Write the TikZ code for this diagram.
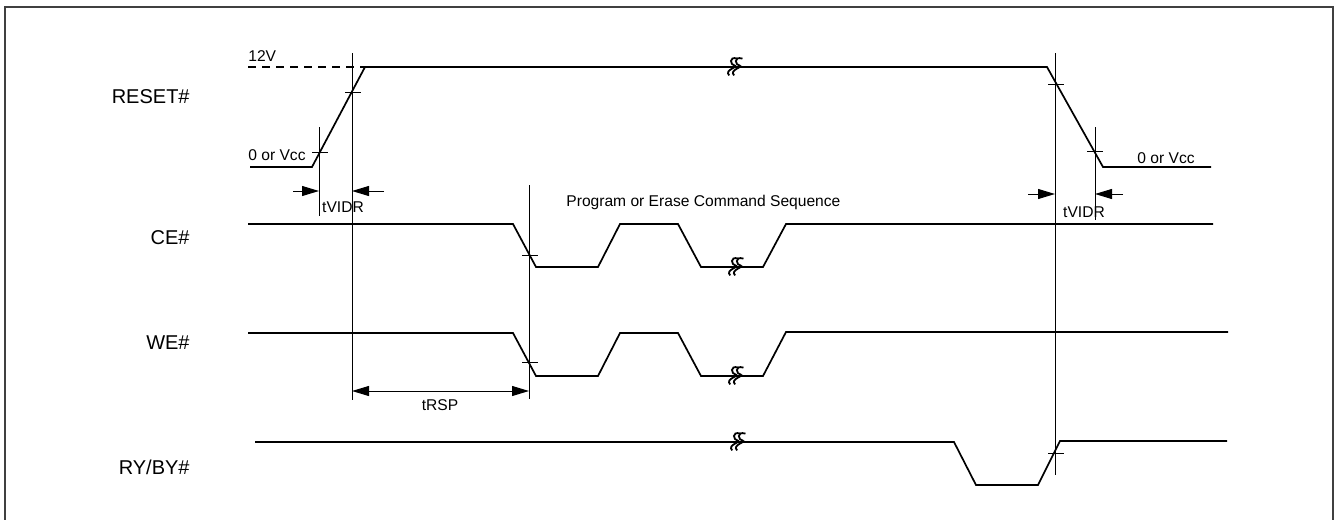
\documentclass[tikz,border=0pt]{standalone}
\usepackage{fontspec}
\setmainfont{Liberation Sans}
\usetikzlibrary{arrows.meta}

\tikzset{brk/.pic={
  \foreach \d in {0,5}
    \draw[line width=0.9pt,scale=1.4] ({4+\d*0.7},-6) .. controls ({-3+\d*0.7},-8) and ({-1+\d*0.7},-1) .. ({2+\d*0.7},-1)
      .. controls ({5+\d*0.7},0) and ({-6+\d*0.7},2) .. ({-2+\d*0.7},6);
}}

\begin{document}
\begin{tikzpicture}[x=0.5pt,y=-0.5pt]
\tikzstyle{wave}=[line width=0.85pt,line join=miter]
\tikzstyle{guide}=[line width=0.5pt]
\tikzstyle{lbl}=[font=\fontsize{10}{12}\selectfont,anchor=east,inner sep=0pt]
\tikzstyle{note}=[font=\fontsize{7.8}{9}\selectfont,inner sep=0pt]
\tikzstyle{dim}=[line width=0.5pt,-{Triangle[length=8.5pt,width=5pt]}]
\useasboundingbox (0,0) rectangle (1335,520);
\draw[line width=1pt,black!75] (5,7) rectangle (1333,522);
\foreach \name/\point in {
	r1/{250,167}, r2/{312,167}, r3/{365,67}, r4/{1047,67}, r5/{1103,167}, r6/{1211,167},
	c1/{248,224}, c2/{513,224}, c3/{536,267}, c4/{598,267}, c5/{620,224},
	c6/{678,224}, c7/{701,267}, c8/{763,267}, c9/{786,224}, c10/{1213,224},
	w1/{248,333}, w2/{513,333}, w3/{536,376}, w4/{598,376}, w5/{620,333},
	w6/{678,333}, w7/{701,376}, w8/{763,376}, w9/{786,332}, w10/{1228,332},
	y1/{255,442}, y2/{954,442}, y3/{976,485}, y4/{1038,485}, y5/{1060,441}, y6/{1227,441},
	v1t/{319,127}, v1b/{319,216},
	v2t/{352,53}, v2b/{352,400},
	v3t/{529,185}, v3b/{529,399},
	v4t/{1055,53}, v4b/{1055,475},
	v5t/{1095,127}, v5b/{1095,220},
	k1/{320,152}, k2/{353,92}, k3/{1056,84}, k4/{1095,151},
	k5/{530,255}, k6/{530,362}, k7/{1056,453},
	a1/{293,191}, a2/{384,191}, a3/{1028,194}, a4/{1123,194},
	d0/{248,67}}
	\coordinate (\name) at (\point);
% waveforms
\draw[wave] (r1) -- (r2) -- (r3) -- (r4) -- (r5) -- (r6);
\draw[wave] (c1) -- (c2) -- (c3) -- (c4) -- (c5) -- (c6) -- (c7) -- (c8) -- (c9) -- (c10);
\draw[wave] (w1) -- (w2) -- (w3) -- (w4) -- (w5) -- (w6) -- (w7) -- (w8) -- (w9) -- (w10);
\draw[wave] (y1) -- (y2) -- (y3) -- (y4) -- (y5) -- (y6);
\draw[wave,dashed,dash pattern=on 4pt off 3pt] (d0) -- (r3);
% breaks
\foreach \p in {{732,67},{733,267},{733,376},{735,442}}
	\pic at (\p) {brk};
% timing guides
\foreach \n in {1,...,5}
	\draw[guide] (v\n t) -- (v\n b);
\foreach \n in {1,...,7}
	\draw[guide] (k\n) ++(-8,0) -- ++(16,0);
\draw[dim] (a1) -- (v1t |- a1);
\draw[dim] (a2) -- (v2t |- a2);
\draw[dim] (a3) -- (v4t |- a3);
\draw[dim] (a4) -- (v5t |- a4);
\draw[dim,{Triangle[length=8.5pt,width=5pt]}-{Triangle[length=8.5pt,width=5pt]}] (v2t |- 0,391) -- (v3t |- 0,391);
% texts
\node[lbl] (reset) at (190,97) {RESET\#};
\node[lbl] (ce) at (190,238) {CE\#};
\node[lbl] (we) at (190,343) {WE\#};
\node[lbl] (ryby) at (190,467) {RY/BY\#};
\node[note,anchor=west] (hi) at (248,56) {12V};
\node[note] (lo1) at (277,155) {0 or Vcc};
\node[note] (lo2) at (1166,158) {0 or Vcc};
\node[note] (vidr1) at (343,207) {tVIDR};
\node[note] (vidr2) at (1084,212) {tVIDR};
\node[note] (rsp) at (440,405) {tRSP};
\node[note,anchor=west] (seq) at (566,202) {Program or Erase Command Sequence};
\end{tikzpicture}
\end{document}
